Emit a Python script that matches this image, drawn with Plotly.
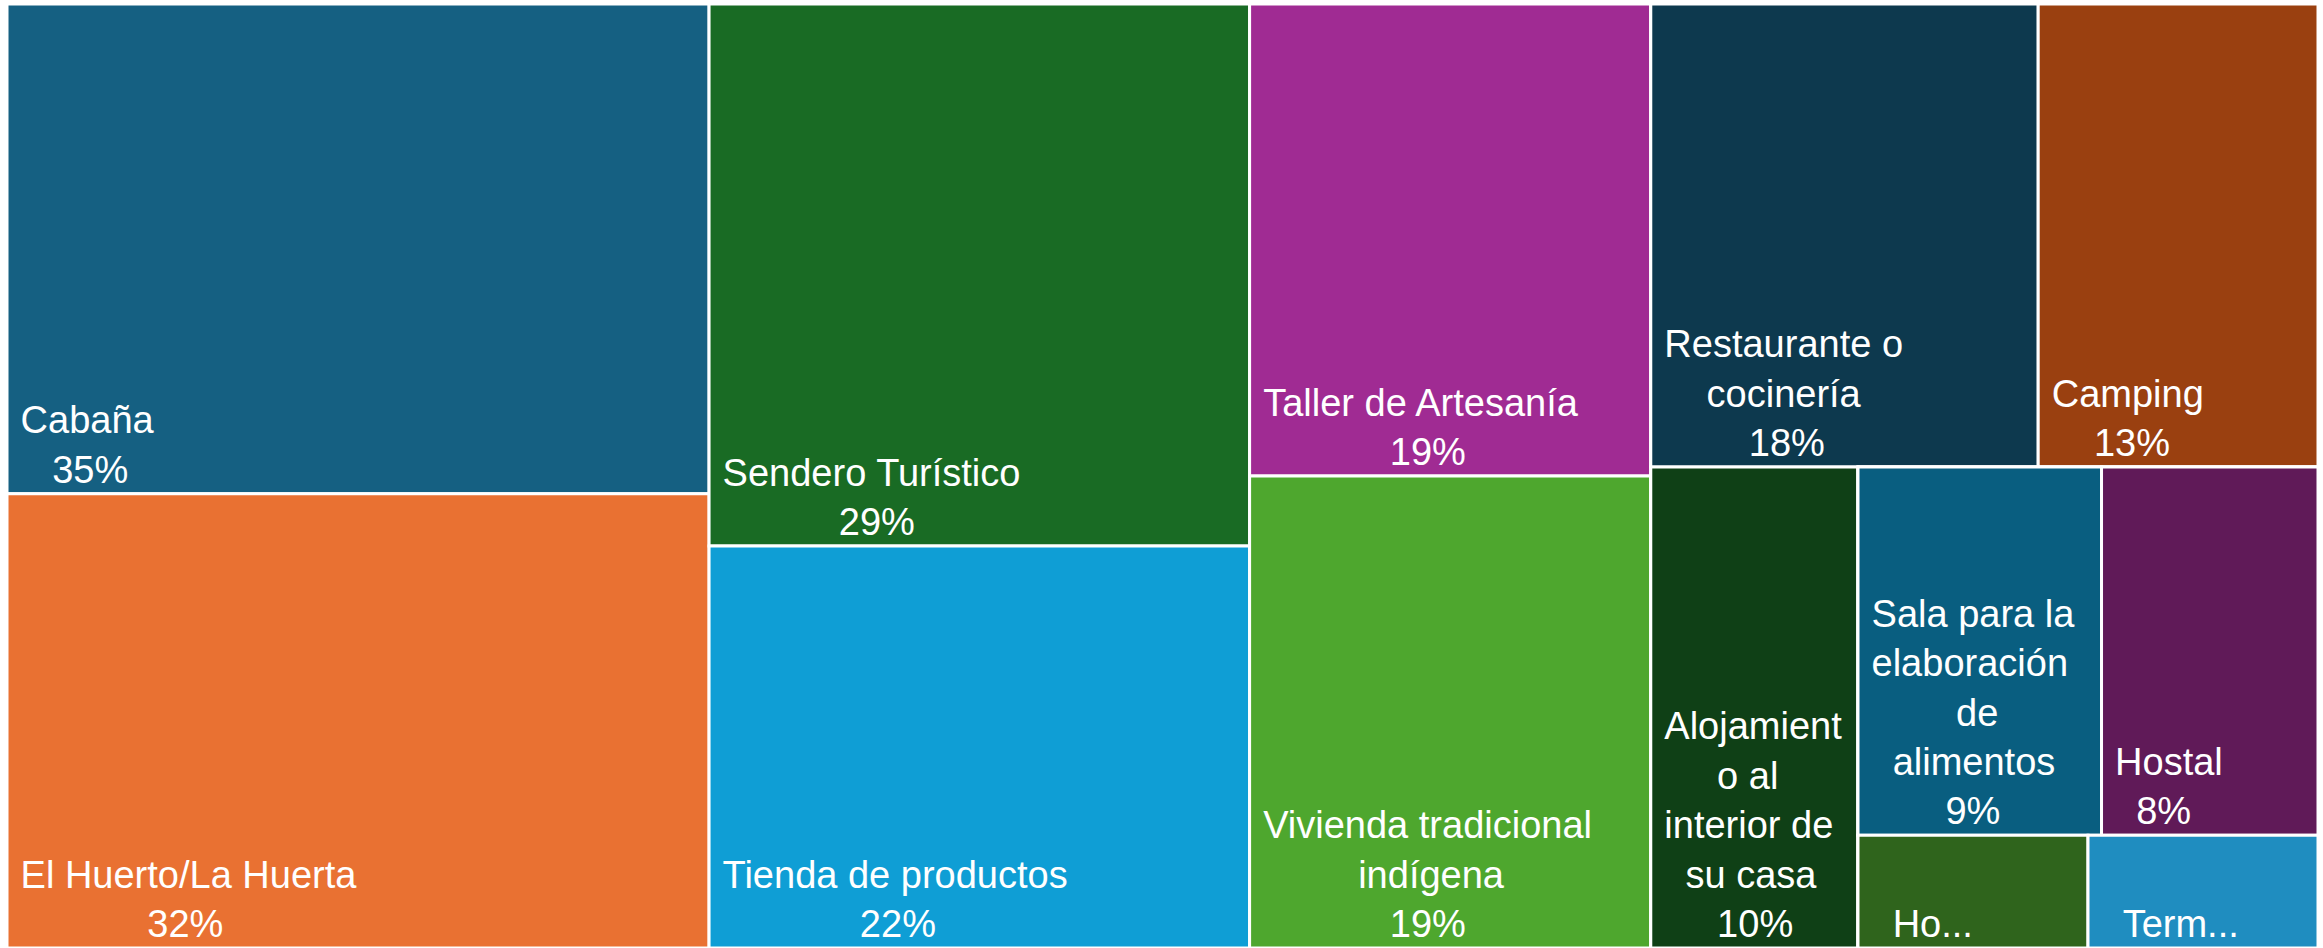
import plotly.graph_objects as go

# ---------------- data ----------------
categories = [
    "Cabaña", "El Huerto/La Huerta", "Sendero Turístico", "Tienda de productos",
    "Taller de Artesanía", "Vivienda tradicional indígena", "Restaurante o cocinería",
    "Camping", "Alojamiento al interior de su casa", "Sala para la elaboración de alimentos",
    "Hostal", "Ho...", "Term...",
]
shares = [34.5, 32, 29.4, 21.8, 19, 19, 18, 13, 10, 9, 8, 2.6, 2.6]
share_labels = ["35%", "32%", "29%", "22%", "19%", "19%", "18%", "13%", "10%", "9%", "8%", "", ""]
display_lines = [
    ["Cabaña"], ["El Huerto/La Huerta"], ["Sendero Turístico"], ["Tienda de productos"],
    ["Taller de Artesanía"], ["Vivienda tradicional", "indígena"], ["Restaurante o", "cocinería"],
    ["Camping"], ["Alojamient", "o al", "interior de", "su casa"],
    ["Sala para la", "elaboración", "de", "alimentos"], ["Hostal"], ["Ho..."], ["Term..."],
]
colors = [
    "#156082", "#E97132", "#196B24", "#0F9ED5", "#A02B93", "#4EA72E",
    "#0D394E", "#9A4010", "#0F4016", "#095E80", "#601A58", "#2F641C", "#1F8DC0",
]
extra_indent = [1, 1, 1, 1, 1, 1, 1, 1, 1, 1, 1, 3, 3]

# layout tree (slice-dice alternation), leaves are category indices
tree = ("root", [
    ("col1", [0, 1]),
    ("col2", [2, 3]),
    ("col3", [4, 5]),
    ("right", [
        ("right_top", [6, 7]),
        ("right_bottom", [
            8,
            ("right_bottom_sub", [
                ("row_sala", [9, 10]),
                ("row_ho", [11, 12]),
            ]),
        ]),
    ]),
])

# approximate Arial widths (em) to center the lines inside each label block
W = {" ": .278, "%": .889, "/": .278, ".": .278, "A": .667, "C": .722, "E": .667, "H": .722,
     "L": .556, "R": .722, "S": .667, "T": .611, "V": .667, "c": .5, "f": .278, "i": .222,
     "j": .222, "k": .5, "l": .222, "m": .833, "r": .333, "s": .5, "t": .278, "v": .5,
     "í": .278, "x": .5, "y": .5, "z": .5}
def width(s):
    return sum(W.get(ch, .556) for ch in s)

NB = "\u00a0"
def make_text(i):
    lines = list(display_lines[i]) + ([share_labels[i]] if share_labels[i] else [])
    mw = max(width(l) for l in lines)
    out = []
    for l in lines:
        n = int(round((mw - width(l)) / 2 / 0.278)) + extra_indent[i]
        out.append(NB * n + l)
    return "<br>".join(out)

ids, labels, parents, values, texts, node_colors = [], [], [], [], [], []
def walk(node, parent):
    if isinstance(node, int):
        ids.append("leaf_%d" % node)
        labels.append(categories[node])
        parents.append(parent)
        values.append(shares[node])
        texts.append(make_text(node))
        node_colors.append(colors[node])
    else:
        gid, children = node
        ids.append(gid)
        labels.append(gid)
        parents.append(parent)
        values.append(0)
        texts.append("")
        node_colors.append("#FFFFFF")
        for c in children:
            walk(c, gid)
walk(tree, "")

fig = go.Figure(go.Treemap(
    ids=ids, labels=labels, parents=parents, values=values,
    branchvalues="remainder", sort=False,
    text=texts, texttemplate="%{text}", textposition="bottom left",
    textfont=dict(family="Liberation Sans, Arial, sans-serif", size=38, color="white"),
    marker=dict(colors=node_colors, line=dict(color="white", width=3),
                pad=dict(t=0, l=0, r=0, b=0), depthfade=False),
    tiling=dict(packing="slice-dice", pad=0),
    pathbar=dict(visible=False),
    hoverinfo="skip",
    root_color="white",
))
fig.update_layout(
    width=2323, height=948,
    margin=dict(l=7, r=5, t=4, b=0),
    paper_bgcolor="white",
)
fig.write_html("out.html", config={"displayModeBar": False},
               post_script="document.body.style.margin='0';")
